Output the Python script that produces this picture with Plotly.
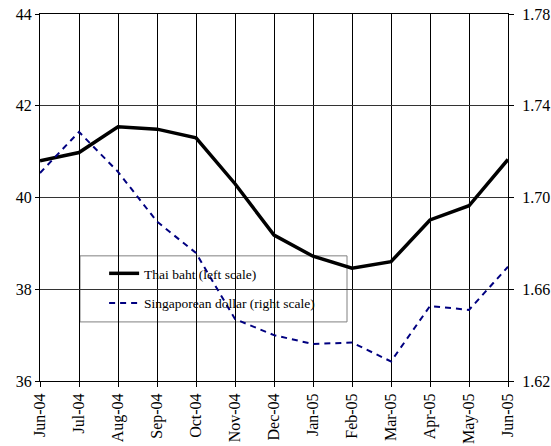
import plotly.graph_objects as go

months = ["Jun-04", "Jul-04", "Aug-04", "Sep-04", "Oct-04", "Nov-04", "Dec-04",
          "Jan-05", "Feb-05", "Mar-05", "Apr-05", "May-05", "Jun-05"]
thai_baht = [40.80, 40.98, 41.54, 41.49, 41.30, 40.30, 39.18, 38.72, 38.46, 38.60, 39.51, 39.82, 40.83]
sgd = [1.7107, 1.7286, 1.7112, 1.6895, 1.6758, 1.6470, 1.6400, 1.6361, 1.6368, 1.6285, 1.6527, 1.6510, 1.6698]

left_ticks = [36, 38, 40, 42, 44]
right_ticks = [1.62, 1.66, 1.70, 1.74, 1.78]

FONT = "Liberation Serif"

fig = go.Figure()
fig.add_trace(go.Scatter(
    x=months, y=thai_baht, mode="lines", name="Thai baht (left scale)",
    line=dict(color="black", width=3.5), legendgroup="a", yaxis="y"))
fig.add_trace(go.Scatter(
    x=months, y=sgd, mode="lines", name="Singaporean dollar (right scale)",
    line=dict(color="#000080", width=2, dash="6px,5px"), legendgroup="b", yaxis="y2"))

# legend frame (white box that hides gridlines, data lines pass over it)
fig.add_shape(type="rect", xref="x domain", yref="y domain",
              x0=0.0855, x1=0.656, y0=0.161, y1=0.341,
              line=dict(color="#808080", width=1), fillcolor="white", layer="below")

fig.update_layout(
    width=551, height=446,
    margin=dict(l=40, r=43, t=14, b=65, autoexpand=False),
    paper_bgcolor="white", plot_bgcolor="white",
    font=dict(family=FONT, size=16, color="black"),
    showlegend=True,
    legend=dict(x=0.137, y=0.335, xanchor="left", yanchor="top",
                bgcolor="rgba(0,0,0,0)", borderwidth=0,
                font=dict(family=FONT, size=13.5, color="black"),
                traceorder="grouped", tracegroupgap=9),
    xaxis=dict(type="category", categoryorder="array", categoryarray=months,
               range=[0, 12], tickangle=-90, showgrid=True, gridcolor="black", gridwidth=1,
               showline=True, linecolor="black", linewidth=1, mirror=True,
               ticks="outside", ticklen=5, tickcolor="black", automargin=False,
               tickfont=dict(family=FONT, size=16, color="black"), zeroline=False),
    yaxis=dict(range=[36, 44], tickvals=left_ticks, showgrid=True, gridcolor="#333333", gridwidth=1,
               showline=True, linecolor="black", linewidth=1, automargin=False,
               ticks="outside", ticklen=4, tickcolor="black",
               tickfont=dict(family=FONT, size=16, color="black"), zeroline=False),
    yaxis2=dict(range=[1.62, 1.78], tickvals=right_ticks, tickformat=".2f",
                overlaying="y", side="right", showgrid=False, automargin=False,
                showline=True, linecolor="black", linewidth=1,
                ticks="outside", ticklen=5, tickcolor="black", ticklabelstandoff=5,
                tickfont=dict(family=FONT, size=16, color="black"), zeroline=False),
)

fig.write_html("out.html", config={"displayModeBar": False},
               post_script="document.body.style.margin='0';")
